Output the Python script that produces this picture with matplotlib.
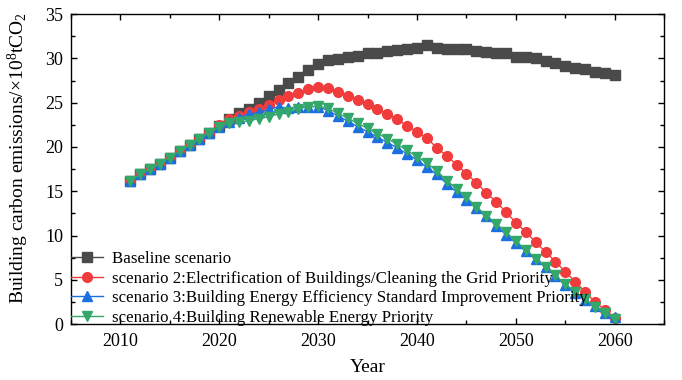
import matplotlib
matplotlib.use('Agg')
import matplotlib.pyplot as plt
from matplotlib.ticker import MultipleLocator

plt.rcParams['font.family'] = ['Liberation Serif', 'DejaVu Serif']
plt.rcParams['mathtext.fontset'] = 'custom'
plt.rcParams['mathtext.rm'] = 'Liberation Serif'
plt.rcParams['mathtext.it'] = 'Liberation Serif:italic'

# 数据 (2011-2060)
years = list(range(2011, 2061))
common = [16.2, 16.9, 17.5, 18.1, 18.8, 19.5, 20.2, 20.9, 21.6]   # 2011-2019 四条线重合

baseline = common + [22.4, 23.2, 23.8, 24.3, 25.0, 25.7, 26.4, 27.2, 27.95, 28.7,
                     29.4, 29.83, 29.9, 30.1, 30.3, 30.55, 30.65, 30.8, 30.95, 31.05,
                     31.15, 31.5, 31.2, 31.1, 31.1, 31.05, 30.85, 30.75, 30.6, 30.55,
                     30.2, 30.15, 30.0, 29.7, 29.5, 29.15, 28.95, 28.8, 28.5, 28.3,
                     28.1]
scenario2 = common + [22.5, 23.1, 23.5, 23.9, 24.3, 24.7, 25.25, 25.7, 26.1, 26.5,
                      26.8, 26.65, 26.15, 25.7, 25.3, 24.8, 24.3, 23.7, 23.1, 22.4,
                      21.7, 21.0, 19.9, 19.0, 18.0, 17.0, 15.95, 14.85, 13.8, 12.65,
                      11.45, 10.4, 9.25, 8.15, 7.05, 5.9, 4.8, 3.65, 2.5, 1.6,
                      0.7]
scenario3 = common + [22.3, 22.8, 23.3, 23.7, 23.9, 24.25, 24.55, 24.35, 24.5, 24.55,
                      24.55, 24.1, 23.5, 22.9, 22.3, 21.7, 21.1, 20.5, 19.9, 19.2,
                      18.55, 17.7, 16.9, 15.85, 14.9, 14.05, 13.1, 12.2, 11.1, 10.1,
                      9.15, 8.2, 7.3, 6.4, 5.4, 4.45, 3.5, 2.75, 2.0, 1.25,
                      0.8]
scenario4 = common + [22.3, 22.65, 22.8, 22.95, 23.2, 23.4, 23.75, 24.0, 24.3, 24.55,
                      24.6, 24.35, 23.8, 23.25, 22.65, 22.1, 21.5, 20.95, 20.3, 19.6,
                      18.9, 18.2, 17.3, 16.2, 15.3, 14.3, 13.25, 12.25, 11.35, 10.4,
                      9.35, 8.4, 7.4, 6.45, 5.5, 4.5, 3.65, 2.85, 1.9, 1.25,
                      0.6]

labels = ['Baseline scenario',
          'scenario 2:Electrification of Buildings/Cleaning the Grid Priority',
          'scenario 3:Building Energy Efficiency Standard Improvement Priority',
          'scenario 4:Building Renewable Energy Priority']

fig = plt.figure(figsize=(6.82, 3.8), dpi=100)
ax = fig.add_axes([0.104, 0.147, 0.870, 0.816])

ax.plot(years, baseline, color='#4a4a4a', marker='s', ms=6.5, lw=1, label=labels[0])
ax.plot(years, scenario2, color='#f03c3c', marker='o', ms=7, lw=1, label=labels[1])
ax.plot(years, scenario3, color='#1c6fe0', marker='^', ms=7.5, lw=1, label=labels[2])
ax.plot(years, scenario4, color='#34a86a', marker='v', ms=7.5, lw=1, label=labels[3])

ax.set_xlim(2005, 2065)
ax.set_ylim(0, 35)
ax.xaxis.set_major_locator(MultipleLocator(10))
ax.xaxis.set_minor_locator(MultipleLocator(5))
ax.yaxis.set_major_locator(MultipleLocator(5))
ax.yaxis.set_minor_locator(MultipleLocator(2.5))
ax.tick_params(which='both', direction='in', top=True, right=True, labelsize=13, width=1)
ax.tick_params(which='major', length=4.5)
ax.tick_params(which='minor', length=3)
ax.tick_params(axis='x', pad=6.5)
ax.tick_params(axis='y', pad=5.5)
for s in ax.spines.values():
    s.set_linewidth(1)

ax.set_xlabel('Year', fontsize=14, labelpad=6)
ax.set_ylabel('Building carbon emissions/×10$^8$tCO$_2$', fontsize=14)
ax.yaxis.set_label_coords(-0.068, 0.535)   # 标签略偏上

ax.legend(loc='lower left', bbox_to_anchor=(0.0, -0.006), frameon=False, fontsize=12.2,
          borderaxespad=0, borderpad=0, handlelength=1.9, handletextpad=0.55,
          labelspacing=0.22)

fig.savefig('out.png', dpi=100)
